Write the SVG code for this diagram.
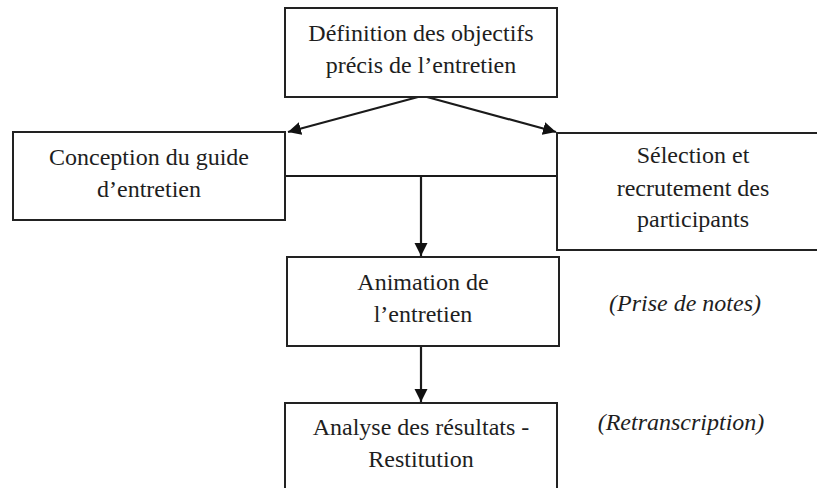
<svg xmlns="http://www.w3.org/2000/svg" width="817" height="488" viewBox="0 0 817 488">
<style>
.box{fill:#fff;stroke:#222;stroke-width:2}
.t{font-family:"Liberation Serif","Times New Roman",serif;font-size:24px;fill:#1e1e1e;text-anchor:middle}
.n{font-family:"Liberation Serif","Times New Roman",serif;font-size:24px;font-style:italic;fill:#1e1e1e;text-anchor:middle}
.c{stroke:#1a1a1a;stroke-width:2.2;fill:none}
</style>
<defs>
<marker id="ah" markerUnits="userSpaceOnUse" markerWidth="14" markerHeight="14" refX="13" refY="6.5" orient="auto">
<path d="M0,0 L13,6.5 L0,13 z" fill="#111"/>
</marker>
</defs>
<rect width="817" height="488" fill="#fff"/>
<g id="connectors">
<line class="c" x1="418" y1="97" x2="288" y2="132" marker-end="url(#ah)"/>
<line class="c" x1="427" y1="97" x2="556" y2="132" marker-end="url(#ah)"/>
<line class="c" x1="285" y1="176" x2="557" y2="176"/>
<line class="c" x1="421" y1="176" x2="421" y2="256" marker-end="url(#ah)"/>
<line class="c" x1="421" y1="346" x2="421" y2="402" marker-end="url(#ah)"/>
</g>
<g id="node-definition">
<rect class="box" x="285" y="8" width="272" height="89"/>
<text class="t" x="421" y="41">Définition des objectifs</text>
<text class="t" x="421" y="73">précis de l’entretien</text>
</g>
<g id="node-conception">
<rect class="box" x="13" y="132" width="272" height="88"/>
<text class="t" x="149" y="165">Conception du guide</text>
<text class="t" x="149" y="197">d’entretien</text>
</g>
<g id="node-selection">
<rect class="box" x="557" y="133" width="272" height="117"/>
<text class="t" x="693" y="163">Sélection et</text>
<text class="t" x="693" y="196">recrutement des</text>
<text class="t" x="693" y="227">participants</text>
</g>
<g id="node-animation">
<rect class="box" x="287" y="257" width="272" height="89"/>
<text class="t" x="423" y="290">Animation de</text>
<text class="t" x="423" y="322">l’entretien</text>
</g>
<g id="node-analyse">
<rect class="box" x="285" y="403" width="272" height="100"/>
<text class="t" x="421" y="435">Analyse des résultats -</text>
<text class="t" x="421" y="467">Restitution</text>
</g>
<g id="notes">
<text class="n" x="685" y="311">(Prise de notes)</text>
<text class="n" x="681" y="430">(Retranscription)</text>
</g>
</svg>
